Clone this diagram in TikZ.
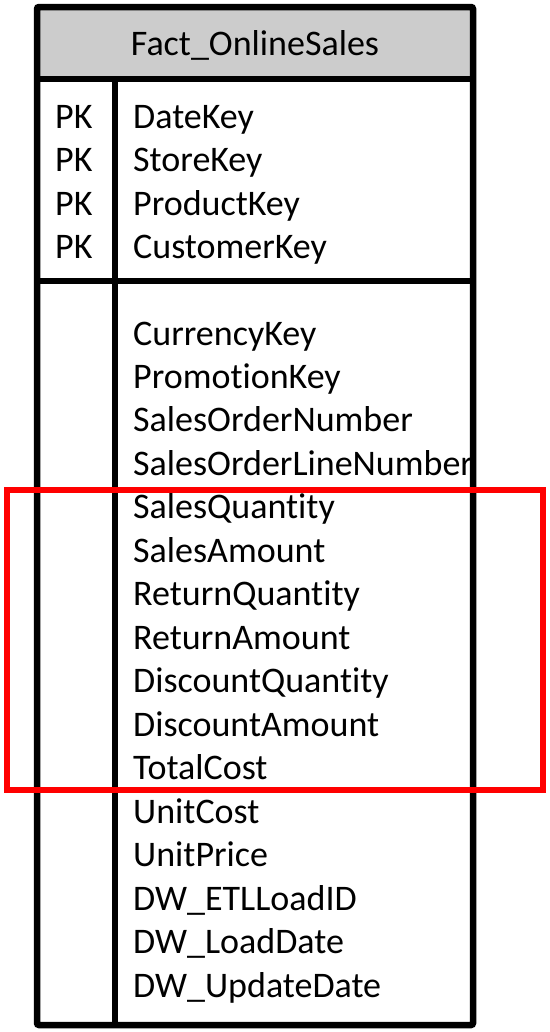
\documentclass[tikz,border=0pt]{standalone}
\usepackage{fontspec}
\setmainfont[Ligatures={NoCommon,NoContextual,NoRare}]{Carlito}
\newcommand{\qty}{Quant\kern0pt ity}
\begin{document}
\begin{tikzpicture}[x=1bp,y=-1bp,
  frame/.style={line width=6.5bp, draw=black},
  redbox/.style={line width=6bp, draw=red, line join=miter},
  txt/.style={anchor=base west, inner sep=0pt, font=\fontsize{36bp}{43bp}\selectfont},
  title/.style={anchor=base, inner sep=0pt, font=\fontsize{36bp}{43bp}\selectfont}]
\useasboundingbox (0,0) rectangle (550,1032);
% header
\fill[black!20] (37,7) rectangle (473,79);
% outer frame
\draw[frame, rounded corners=2bp] (37,7) rectangle (473,1025);
\draw[frame] (37,79) -- (473,79);
\draw[frame] (37,281) -- (473,281);
\draw[frame] (115,79) -- (115,1025);
\node[title] (t) at (255,55) {Fact\_OnlineSales};
% PK rows
\foreach \n [count=\i from 0] in {DateKey,StoreKey,ProductKey,CustomerKey} {
  \node[txt] (pk\i) at (55,128+43.5*\i) {PK};
  \node[txt] (k\i) at (133,128+43.5*\i) {\n};
}
\foreach \n [count=\i from 0] in {CurrencyKey,PromotionKey,SalesOrderNumber,SalesOrderLineNumber,Sales\qty,SalesAmount,Return\qty,ReturnAmount,Discount\qty,DiscountAmount,TotalCost,UnitCost,UnitPrice,DW\_ETLLoadID,DW\_LoadDate,DW\_UpdateDate} {
  \node[txt] (f\i) at (133,345+43.47*\i) {\n};
}
% highlight
\draw[redbox] (7,490) rectangle (543,790);
\end{tikzpicture}
\end{document}
